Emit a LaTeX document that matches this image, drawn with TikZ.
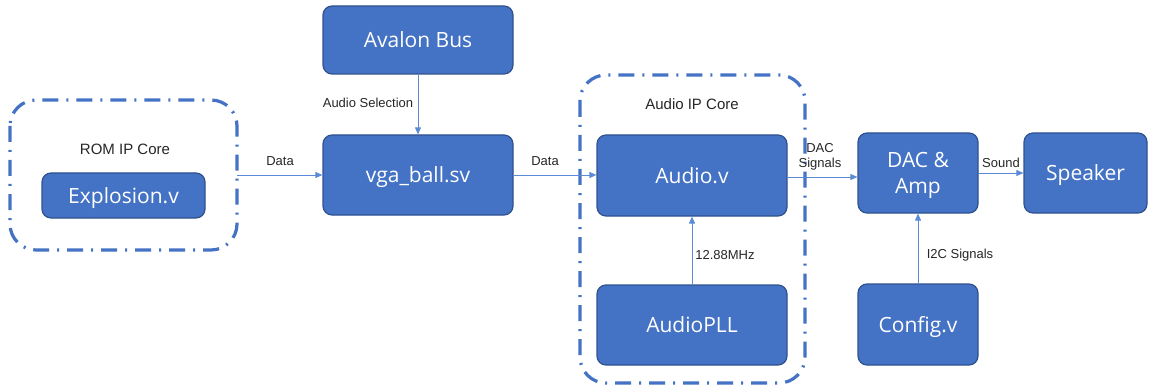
\documentclass[tikz,border=0pt]{standalone}
\usepackage{fontspec}
\setmainfont{Liberation Sans}
\newfontfamily\boxfont{Open Sans}
\usetikzlibrary{arrows.meta}
\definecolor{blockfill}{HTML}{4472C4}
\definecolor{blockedge}{HTML}{2F528F}
\definecolor{linkblue}{HTML}{5B8BD6}
\tikzset{
  block/.style={draw=blockedge, line width=1.2pt, fill=blockfill, rounded corners=9pt,
    text=white, font=\boxfont\fontsize{21}{24}\selectfont, align=center, text depth=0pt},
  link/.style={draw=linkblue, line width=0.9pt, -{Triangle[length=7pt,width=6pt]}},
  lbl/.style={font=\fontsize{13}{14.5}\selectfont, text=black!85, align=center},
  framelbl/.style={font=\fontsize{15}{17}\selectfont, text=black!85},
  corebox/.style={draw=blockfill, line width=3.2pt, rounded corners=26pt,
    dash pattern=on 16pt off 8pt on 2pt off 8pt}
}
\newcommand{\blk}[6]{\node[block, minimum width=#4-#2, minimum height=#5-#3, inner sep=0pt] (#1) at ({(#2+#4)/2},{(#3+#5)/2}) {#6};}
\begin{document}
\begin{tikzpicture}[x=1pt,y=-1pt]
\useasboundingbox (0,0) rectangle (1149,385);
% grouping frames
\draw[corebox] (10,100) rectangle (237,250);
\draw[corebox] (580,75) rectangle (805,383);
\node[framelbl] (romlbl) at (125,149) {ROM IP Core};
\node[framelbl] (audlbl) at (692,104) {Audio IP Core};
% blocks
\blk{avalon}{323}{6}{513}{74}{Avalon Bus}
\blk{vga}{323}{135}{513}{215}{vga\_ball.sv}
\blk{expl}{42}{173}{205}{218}{Explosion.v}
\blk{audio}{597}{135}{787}{216}{Audio.v}
\blk{pll}{597}{285}{787}{365}{AudioPLL}
\blk{dac}{858}{133}{978}{213}{DAC \&\\[2pt] Amp}
\blk{spk}{1024}{133}{1147}{213}{Speaker}
\blk{cfg}{858}{284}{978}{365}{Config.v}
% connections
\coordinate (romout) at (237,175);
\draw[link] (romout) -- (vga.west |- romout);
\draw[link] (avalon.south) -- (vga.north);
\draw[link] (vga.east |- 0,175) -- (audio.west |- 0,175);
\draw[link] (audio.east |- 0,177) -- (dac.west |- 0,177);
\draw[link] (dac.east |- 0,173) -- (spk.west |- 0,173);
\draw[link] (pll.north) -- (audio.south);
\draw[link] (cfg.north) -- (dac.south);
% connection labels
\node[lbl] (t1) at (280,161) {Data};
\node[lbl] (t2) at (368,103) {Audio Selection};
\node[lbl] (t3) at (545,161) {Data};
\node[lbl] (t4) at (820,157) {DAC\\[1pt]Signals};
\node[lbl] (t5) at (1001,163) {Sound};
\node[lbl] (t6) at (725,255) {12.88MHz};
\node[lbl] (t7) at (960,255) {I2C Signals};
\end{tikzpicture}
\end{document}
